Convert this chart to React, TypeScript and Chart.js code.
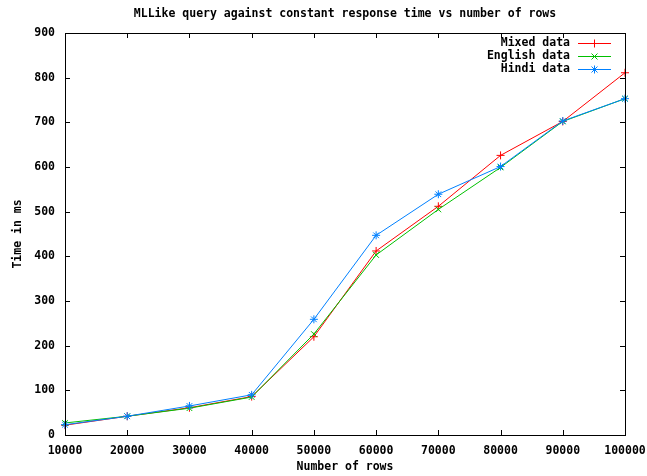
import React, { useEffect, useRef } from "react";
import { Chart, registerables } from "chart.js";

Chart.register(...registerables);

const rows = [10000, 20000, 30000, 40000, 50000, 60000, 70000, 80000, 90000, 100000];
const mixedData = [22, 42, 61, 86, 220, 412, 512, 626, 702, 811];
const englishData = [27, 42, 60, 85, 226, 403, 505, 599, 702, 753];
const hindiData = [23, 42, 65, 90, 259, 447, 539, 601, 703, 753];
const seriesNames = ["Mixed data", "English data", "Hindi data"];
const seriesColors = ["#ff0000", "#00c000", "#0080ff"];
const seriesMarkers = ["cross", "crossRot", "star"];
const titleText = "MLLike query against constant response time vs number of rows";
const xTitle = "Number of rows";
const yTitle = "Time in ms";

const FONT = 'bold 11.5px "DejaVu Sans Mono"';

function drawMarker(ctx: CanvasRenderingContext2D, kind: string, x: number, y: number, r: number) {
  ctx.beginPath();
  if (kind === "cross" || kind === "star") {
    ctx.moveTo(x - r, y);
    ctx.lineTo(x + r, y);
    ctx.moveTo(x, y - r);
    ctx.lineTo(x, y + r);
  }
  if (kind === "crossRot" || kind === "star") {
    const d = r * 0.75;
    ctx.moveTo(x - d, y - d);
    ctx.lineTo(x + d, y + d);
    ctx.moveTo(x - d, y + d);
    ctx.lineTo(x + d, y - d);
  }
  ctx.stroke();
}

const decorPlugin = {
  id: "gnuplotDecor",
  afterDraw(chart: any) {
    const ctx = chart.ctx as CanvasRenderingContext2D;
    const a = chart.chartArea;
    const xs = chart.scales.x;
    const ys = chart.scales.y;
    ctx.save();
    ctx.strokeStyle = "#000";
    ctx.lineWidth = 1;
    ctx.strokeRect(Math.round(a.left) + 0.5, Math.round(a.top) + 0.5, Math.round(a.right - a.left), Math.round(a.bottom - a.top));
    const tl = 5;
    ctx.beginPath();
    xs.ticks.forEach((t: any) => {
      const px = Math.round(xs.getPixelForValue(t.value)) + 0.5;
      ctx.moveTo(px, a.bottom);
      ctx.lineTo(px, a.bottom - tl);
      ctx.moveTo(px, a.top);
      ctx.lineTo(px, a.top + tl);
    });
    ys.ticks.forEach((t: any) => {
      const py = Math.round(ys.getPixelForValue(t.value)) + 0.5;
      ctx.moveTo(a.left, py);
      ctx.lineTo(a.left + tl, py);
      ctx.moveTo(a.right, py);
      ctx.lineTo(a.right - tl, py);
    });
    ctx.stroke();
    ctx.fillStyle = "#000";
    ctx.font = FONT;
    ctx.textAlign = "center";
    ctx.textBaseline = "middle";
    ctx.fillText(titleText, (a.left + a.right) / 2, 14);
    ctx.fillText(xTitle, (a.left + a.right) / 2, 467);
    ctx.save();
    ctx.translate(18, (a.top + a.bottom) / 2);
    ctx.rotate(-Math.PI / 2);
    ctx.fillText(yTitle, 0, 0);
    ctx.restore();
    ctx.textAlign = "right";
    for (let i = 0; i < seriesNames.length; i++) {
      const y = 43 + i * 13;
      ctx.fillStyle = "#000";
      ctx.fillText(seriesNames[i], 570, y);
      ctx.strokeStyle = seriesColors[i];
      ctx.lineWidth = 1;
      ctx.beginPath();
      ctx.moveTo(578, y + 0.5);
      ctx.lineTo(611, y + 0.5);
      ctx.stroke();
      drawMarker(ctx, seriesMarkers[i], 594.5, y + 0.5, 4);
    }
    ctx.restore();
  },
};

export default function App() {
  const ref = useRef<HTMLCanvasElement>(null);
  useEffect(() => {
    if (!ref.current) return;
    const series = [mixedData, englishData, hindiData];
    const chart = new Chart(ref.current, {
      type: "line",
      data: {
        datasets: series.map((d, i) => ({
          label: seriesNames[i],
          data: rows.map((r, j) => ({ x: r, y: d[j] })),
          borderColor: seriesColors[i],
          backgroundColor: seriesColors[i],
          borderWidth: 1,
          pointStyle: seriesMarkers[i] as any,
          pointRadius: 4,
          pointBorderWidth: 1,
          pointBorderColor: seriesColors[i],
          fill: false,
          tension: 0,
          clip: false as any,
          order: 2 - i,
        })),
      },
      options: {
        animation: false,
        responsive: false,
        maintainAspectRatio: false,
        layout: { padding: { top: 33, right: 22, left: 0, bottom: 0 } },
        plugins: { legend: { display: false }, title: { display: false }, tooltip: { enabled: false } },
        scales: {
          x: {
            type: "linear",
            min: 10000,
            max: 100000,
            grid: { display: false, drawTicks: false },
            border: { display: false },
            ticks: {
              stepSize: 10000,
              color: "#000",
              padding: 9,
              maxRotation: 0,
              autoSkip: false,
              font: { family: "DejaVu Sans Mono", size: 11.5, weight: "bold" },
              callback: (v: any) => String(v),
            },
            afterFit: (s: any) => {
              s.height = 41;
              s.paddingLeft = 0;
              s.paddingRight = 0;
            },
          },
          y: {
            min: 0,
            max: 900,
            grid: { display: false, drawTicks: false },
            border: { display: false },
            ticks: {
              stepSize: 100,
              color: "#000",
              padding: 10,
              font: { family: "DejaVu Sans Mono", size: 11.5, weight: "bold" },
            },
            afterFit: (s: any) => {
              s.width = 65;
              s.paddingTop = 0;
              s.paddingBottom = 0;
            },
          },
        },
      },
      plugins: [decorPlugin],
    });
    return () => chart.destroy();
  }, []);
  return (
    <div style={{ position: "absolute", left: 0, top: 0, width: 647, height: 476, background: "#fff" }}>
      <canvas ref={ref} width={647} height={476} style={{ display: "block" }} />
    </div>
  );
}
